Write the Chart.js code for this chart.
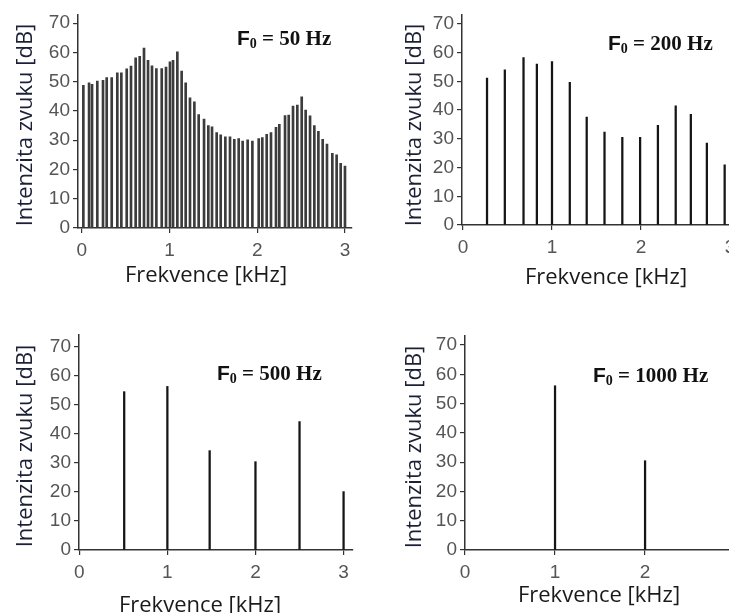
<!DOCTYPE html>
<html>
<head>
<meta charset="utf-8">
<script src="https://cdn.jsdelivr.net/npm/chart.js@4/dist/chart.umd.min.js"></script>
<style>
  html, body { margin:0; padding:0; background:#fff; width:729px; height:613px; overflow:hidden; }
  body { position:relative; }
  canvas { position:absolute; }
  .ttl { position:absolute; font-family:'Open Sans','Noto Sans',sans-serif; font-size:22px; line-height:22px; color:#1a1a1a; white-space:nowrap; transform:translate(-50%,-50%); }
  .ytl { position:absolute; font-family:'Open Sans','Noto Sans',sans-serif; font-size:22px; line-height:22px; color:#1b2035; white-space:nowrap; transform:translate(-50%,-50%) rotate(-90deg); }
  .f0 { position:absolute; font-family:'Liberation Serif','Times New Roman',serif; font-weight:bold; font-size:21px; line-height:21px; color:#111; white-space:nowrap; transform:translateY(-50%); }
  .f0 .F { font-family:'Liberation Sans',Arial,sans-serif; }
  .f0 sub { font-size:14px; vertical-align:-3px; line-height:0; }
</style>
</head>
<body>
<canvas id="c1" width="365" height="300" style="left:0px;top:0px"></canvas>
<canvas id="c2" width="400" height="300" style="left:370px;top:0px"></canvas>
<canvas id="c3" width="365" height="303" style="left:0px;top:310px"></canvas>
<canvas id="c4" width="400" height="303" style="left:370px;top:310px"></canvas>

<div class="ytl" style="left:23px;top:125px">Intenzita zvuku [dB]</div>
<div class="ytl" style="left:412px;top:125px">Intenzita zvuku [dB]</div>
<div class="ytl" style="left:23px;top:446px">Intenzita zvuku [dB]</div>
<div class="ytl" style="left:412px;top:447px">Intenzita zvuku [dB]</div>

<div class="ttl" style="left:206px;top:273px">Frekvence [kHz]</div>
<div class="ttl" style="left:606px;top:275px">Frekvence [kHz]</div>
<div class="ttl" style="left:200px;top:603px">Frekvence [kHz]</div>
<div class="ttl" style="left:599px;top:593px">Frekvence [kHz]</div>

<div class="f0" style="left:237px;top:38px"><span class="F">F</span><sub>0</sub> = 50 Hz</div>
<div class="f0" style="left:608px;top:43px"><span class="F">F</span><sub>0</sub> = 200 Hz</div>
<div class="f0" style="left:217px;top:373px"><span class="F">F</span><sub>0</sub> = 500 Hz</div>
<div class="f0" style="left:593px;top:375px"><span class="F">F</span><sub>0</sub> = 1000 Hz</div>

<script>
// ---- data (frequency in kHz, level in dB) ----
const yTickValues = [0, 10, 20, 30, 40, 50, 60, 70];
const xTickValues = [0, 1, 2, 3];

// F0 = 50 Hz
const f50Freq = [0.019,0.084,0.118,0.178,0.243,0.285,0.342,0.406,0.452,0.513,
                 0.562,0.615,0.661,0.710,0.756,0.801,0.851,0.912,0.961,1.006,
                 1.041,1.090,1.139,1.185,1.234,1.284,1.333,1.394,1.443,1.485,
                 1.538,1.584,1.637,1.690,1.739,1.789,1.834,1.891,1.945,2.017,
                 2.058,2.108,2.157,2.214,2.252,2.317,2.359,2.408,2.457,2.507,
                 2.552,2.602,2.651,2.697,2.746,2.795,2.856,2.905,2.951,3.000];
const f50Level = [48.8,49.6,49.1,50.2,50.5,51.4,51.4,53.0,53.0,54.4,
                  55.3,58.2,58.7,61.5,57.3,55.4,54.5,54.5,55.0,56.8,
                  57.3,60.2,53.6,49.6,44.5,43.1,38.8,37.2,35.0,34.6,
                  32.6,31.8,31.2,31.2,30.3,30.6,29.7,30.1,29.7,30.6,
                  30.9,32.0,32.6,34.4,35.4,38.4,38.6,41.7,42.0,44.8,
                  40.3,38.3,35.0,33.0,30.3,28.7,25.5,25.0,22.1,21.2];

// F0 = 200 Hz
const f200Freq  = [0.27,0.47,0.68,0.83,1.00,1.20,1.39,1.59,1.79,1.99,2.19,2.39,2.56,2.74,2.94];
const f200Level = [51.1,54.0,58.3,56.0,56.9,49.7,37.6,32.3,30.5,30.5,34.7,41.5,38.5,28.5,20.9];

// F0 = 500 Hz
const f500Freq  = [0.51,1.00,1.48,2.00,2.50,3.00];
const f500Level = [54.5,56.3,34.2,30.4,44.2,20.1];

// F0 = 1000 Hz
const f1000Freq  = [1.0,2.0];
const f1000Level = [56.1,30.5];

// ---- drawing ----
const tickFont = { family: "'Liberation Sans Narrow','Arial Narrow','Liberation Sans',sans-serif", size: 19 };
const tickColor = '#555';
const axisColor = '#333';

function makePanel(id, freq, level, geo, barColor, barW) {
  const canvas = document.getElementById(id);
  const cx = geo.cx, cy = geo.cy, W = canvas.width, H = canvas.height;
  new Chart(canvas, {
    type: 'bar',
    data: {
      datasets: [{
        data: freq.map((f, i) => ({ x: f, y: level[i] })),
        backgroundColor: barColor,
        borderWidth: 0,
        barThickness: barW,
        grouped: false
      }]
    },
    options: {
      responsive: false,
      animation: false,
      events: [],
      layout: { padding: { left: 0, top: geo.T - cy, right: cx + W - geo.R, bottom: 0 } },
      plugins: { legend: { display: false }, tooltip: { enabled: false }, title: { display: false } },
      scales: {
        x: {
          type: 'linear',
          offset: false,
          min: geo.xmin, max: geo.xmax,
          afterBuildTicks: s => { s.ticks = xTickValues.map(v => ({ value: v })); },
          afterFit: s => { s.height = cy + H - geo.B; },
          border: { display: true, color: axisColor, width: 1.5 },
          grid: { display: true, offset: false, drawOnChartArea: false, drawTicks: true, tickLength: 5, color: axisColor, lineWidth: 1.2 },
          ticks: { autoSkip: false, maxRotation: 0, padding: 6, color: tickColor, font: tickFont }
        },
        y: {
          type: 'linear',
          min: 0, max: geo.ymax,
          afterBuildTicks: s => { s.ticks = yTickValues.map(v => ({ value: v })); },
          afterFit: s => { s.width = geo.L - cx; },
          border: { display: true, color: axisColor, width: 1.5 },
          grid: { display: true, drawOnChartArea: false, drawTicks: true, tickLength: 5, color: axisColor, lineWidth: 1.2 },
          ticks: { autoSkip: false, padding: 3, color: tickColor, font: tickFont }
        }
      }
    }
  });
}

makePanel('c1', f50Freq, f50Level,
  { cx: 0, cy: 0, L: 78, T: 14, R: 352, B: 228, xmin: -0.042, xmax: 3.08, ymax: 73.0 }, '#3c3c3c', 2);
makePanel('c2', f200Freq, f200Level,
  { cx: 370, cy: 0, L: 462, T: 12, R: 743, B: 225, xmin: -0.0112, xmax: 3.146, ymax: 73.3 }, '#151515', 1.6);
makePanel('c3', f500Freq, f500Level,
  { cx: 0, cy: 310, L: 79, T: 335, R: 353, B: 550, xmin: -0.003, xmax: 3.107, ymax: 74.0 }, '#151515', 1.6);
makePanel('c4', f1000Freq, f1000Level,
  { cx: 370, cy: 310, L: 465, T: 336, R: 745, B: 550, xmin: 0, xmax: 3.11, ymax: 73.1 }, '#151515', 1.6);
</script>
</body>
</html>
